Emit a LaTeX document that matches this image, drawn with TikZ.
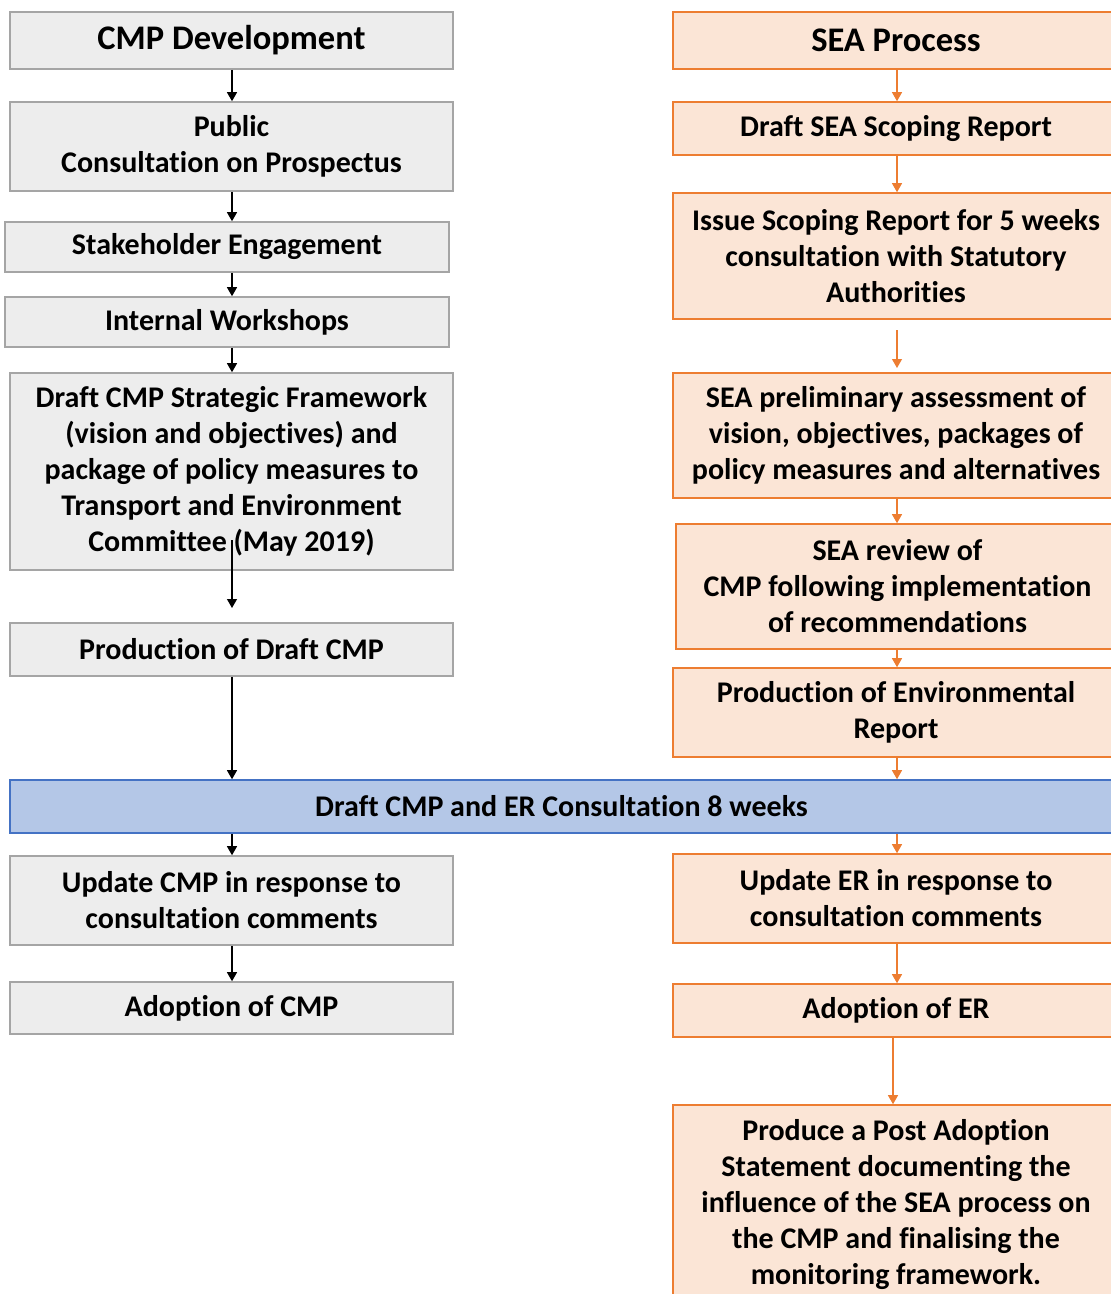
\documentclass[tikz,border=0pt]{standalone}
\usepackage{fontspec}
\setmainfont{Carlito}[Ligatures=NoCommon]
\usetikzlibrary{arrows.meta}
\definecolor{grayfill}{HTML}{EDEDED}
\definecolor{graydraw}{HTML}{A5A5A5}
\definecolor{orfill}{HTML}{FBE5D6}
\definecolor{ordraw}{HTML}{ED7D31}
\definecolor{bluefill}{HTML}{B4C7E7}
\definecolor{bluedraw}{HTML}{4472C4}
\begin{document}
\begin{tikzpicture}[x=1pt,y=1pt,
  base/.style={line width=1.6pt, align=center, inner sep=0pt, font=\fontsize{30}{36}\selectfont\bfseries},
  graybox/.style={base, draw=graydraw, fill=grayfill},
  orbox/.style={base, draw=ordraw, fill=orfill},
  bluebox/.style={base, draw=bluedraw, fill=bluefill},
  title/.style={font=\fontsize{34.5}{40}\selectfont\bfseries},
  larr/.style={draw=black, line width=1.1pt, -{Triangle[width=10pt,length=9pt]}},
  rarr/.style={draw=ordraw, line width=1.1pt, -{Triangle[width=10pt,length=9pt]}}]
\useasboundingbox (0,0) rectangle (1111,-1294);
\begin{scope}
\clip (0,0) rectangle (1111,-1294);
% left column
\node[graybox, title, minimum width=443pt, minimum height=57pt] (cmp) at (231.5,-40.5) {CMP Development};
\node[graybox, minimum width=443pt, minimum height=89pt] (pub) at (231.5,-146.5) {Public\\Consultation on Prospectus};
\node[graybox, minimum width=444pt, minimum height=50pt] (stk) at (227,-247) {Stakeholder Engagement};
\node[graybox, minimum width=444pt, minimum height=50pt] (iws) at (227,-322) {Internal Workshops};
\node[graybox, minimum width=443pt, minimum height=197pt] (dsf) at (231.5,-471.5) {Draft CMP Strategic Framework\\(vision and objectives) and\\package of policy measures to\\Transport and Environment\\Committee (May 2019)};
\node[graybox, minimum width=443pt, minimum height=53pt] (pdc) at (231.5,-649.5) {Production of Draft CMP};
\node[bluebox, minimum width=1103pt, minimum height=53pt] (blue) at (561.5,-806.5) {Draft CMP and ER Consultation 8 weeks};
\node[graybox, minimum width=443pt, minimum height=89pt] (upc) at (231.5,-900.5) {Update CMP in response to\\consultation comments};
\node[graybox, minimum width=443pt, minimum height=52pt] (adc) at (231.5,-1008) {Adoption of CMP};
% right column
\node[orbox, title, minimum width=446pt, minimum height=57pt] (sea) at (896,-40.5) {SEA Process};
\node[orbox, minimum width=446pt, minimum height=53pt] (dsr) at (896,-128.5) {Draft SEA Scoping Report};
\node[orbox, minimum width=446pt, minimum height=126pt] (isr) at (896,-256) {Issue Scoping Report for 5 weeks\\consultation with Statutory\\Authorities};
\node[orbox, minimum width=446pt, minimum height=125pt] (pre) at (896,-435.5) {SEA preliminary assessment of\\vision, objectives, packages of\\policy measures and alternatives};
\node[orbox, minimum width=443pt, minimum height=125pt] (rev) at (897.5,-586.5) {SEA review of\\CMP following implementation\\of recommendations};
\node[orbox, minimum width=446pt, minimum height=89pt] (per) at (896,-712.5) {Production of Environmental\\Report};
\node[orbox, minimum width=446pt, minimum height=89pt] (uer) at (896,-898.5) {Update ER in response to\\consultation comments};
\node[orbox, minimum width=446pt, minimum height=53pt] (aer) at (896,-1010.5) {Adoption of ER};
\node[orbox, minimum width=446pt, minimum height=199pt] (pas) at (896,-1204.5) {Produce a Post Adoption\\Statement documenting the\\influence of the SEA process on\\the CMP and finalising the\\monitoring framework.};
\end{scope}
% column coordinates
\coordinate (colL) at (232,0);
\coordinate (colR) at (897,0);
\coordinate (colR2) at (893,0);
\coordinate (dsfin) at (232,-540);
\coordinate (pdctip) at (232,-608);
\coordinate (isrout) at (897,-330);
\coordinate (pretip) at (897,-368);
% left arrows
\draw[larr] (cmp.south -| colL) -- (pub.north -| colL);
\draw[larr] (pub.south -| colL) -- (stk.north -| colL);
\draw[larr] (stk.south -| colL) -- (iws.north -| colL);
\draw[larr] (iws.south -| colL) -- (dsf.north -| colL);
\draw[larr] (dsfin) -- (pdctip);
\draw[larr] (pdc.south -| colL) -- (blue.north -| colL);
\draw[larr] (blue.south -| colL) -- (upc.north -| colL);
\draw[larr] (upc.south -| colL) -- (adc.north -| colL);
% right arrows
\draw[rarr] (sea.south -| colR) -- (dsr.north -| colR);
\draw[rarr] (dsr.south -| colR) -- (isr.north -| colR);
\draw[rarr] (isrout) -- (pretip);
\draw[rarr] (pre.south -| colR) -- (rev.north -| colR);
\draw[rarr] (rev.south -| colR) -- (per.north -| colR);
\draw[rarr] (per.south -| colR) -- (blue.north -| colR);
\draw[rarr] (blue.south -| colR) -- (uer.north -| colR);
\draw[rarr] (uer.south -| colR) -- (aer.north -| colR);
\draw[rarr] (aer.south -| colR2) -- (pas.north -| colR2);
\end{tikzpicture}
\end{document}
